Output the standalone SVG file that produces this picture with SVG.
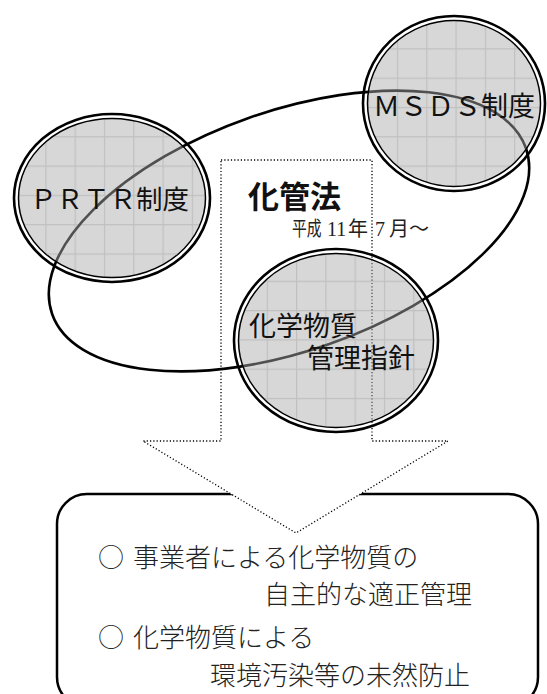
<svg xmlns="http://www.w3.org/2000/svg" width="547" height="694" viewBox="0 0 547 694">
<style>
.ring{fill:none;stroke:#000;stroke-width:2.6}
.inner{stroke:#000;stroke-width:1.5}
.goth{font-family:"Noto Sans CJK JP","Noto Sans",sans-serif;fill:#111}
.min{font-family:"Liberation Serif","Noto Sans CJK JP",serif;fill:#222;font-size:20px}
.body{font-family:"Noto Sans CJK JP",sans-serif;font-weight:300;fill:#222;font-size:26px}
.dot{fill:#fff;stroke:#000;stroke-width:1.3;stroke-dasharray:1.2 2.1}
</style>
<defs>
<pattern id="gridA" patternUnits="userSpaceOnUse" x="16" y="19" width="29.3" height="29.3">
<rect width="29.3" height="29.3" fill="#ababab" fill-opacity="0.47"/>
<path d="M0,0.6H29.3M0.6,0V29.3" stroke="#646464" stroke-opacity="0.2" stroke-width="1.2" fill="none"/>
</pattern>
<pattern id="gridB" patternUnits="userSpaceOnUse" x="3" y="17" width="29.3" height="29.3">
<rect width="29.3" height="29.3" fill="#ababab" fill-opacity="0.47"/>
<path d="M0,0.6H29.3M0.6,0V29.3" stroke="#646464" stroke-opacity="0.2" stroke-width="1.2" fill="none"/>
</pattern>
</defs>

<g id="result-box">
<rect x="57" y="494" width="481" height="213" rx="30" ry="30" fill="#fff" stroke="#000" stroke-width="2.5"/>
</g>

<g id="connectors">
<path id="arrow" class="dot" d="M221,160 L372,160 L372,441 L448,441 L296,533 L143,441 L221,441 Z"/>
<ellipse id="orbit" cx="289" cy="231" rx="251" ry="120" transform="rotate(-19.3 289 231)" fill="none" stroke="#000" stroke-width="2.6"/>
</g>

<g id="prtr">
<ellipse cx="112" cy="198" rx="93.5" ry="79.5" fill="url(#gridA)" class="inner"/>
<ellipse cx="112" cy="198" rx="98" ry="84" class="ring"/>
<text class="goth" x="30" y="209" font-size="26.5">ＰＲＴＲ制度</text>
</g>

<g id="msds">
<ellipse cx="454" cy="103.5" rx="86.5" ry="83" fill="url(#gridA)" class="inner"/>
<ellipse cx="454" cy="103.5" rx="91" ry="87.5" class="ring"/>
<text class="goth" x="373" y="116" font-size="27">ＭＳＤＳ制度</text>
</g>

<g id="guideline">
<ellipse cx="336" cy="340.5" rx="97.5" ry="87" fill="url(#gridB)" class="inner"/>
<ellipse cx="336" cy="340.5" rx="102" ry="91.5" class="ring"/>
<text class="goth" x="249" y="336" font-size="27">化学物質</text>
<text class="goth" x="307" y="368" font-size="27">管理指針</text>
</g>

<g id="law">
<text class="goth" x="248" y="208" font-size="31" font-weight="bold">化管法</text>
<text class="min" transform="translate(292 236) scale(0.74 1)">平成</text>
<text class="min" y="236"><tspan x="327">11</tspan><tspan x="348">年</tspan><tspan x="375">7</tspan><tspan x="389">月～</tspan></text>
</g>

<g id="result-text">
<text class="body" x="98" y="567">○</text>
<text class="body" x="133" y="567">事業者による化学物質の</text>
<text class="body" x="264" y="604">自主的な適正管理</text>
<text class="body" x="98" y="647">○</text>
<text class="body" x="133" y="647">化学物質による</text>
<text class="body" x="210" y="685">環境汚染等の未然防止</text>
</g>
</svg>
